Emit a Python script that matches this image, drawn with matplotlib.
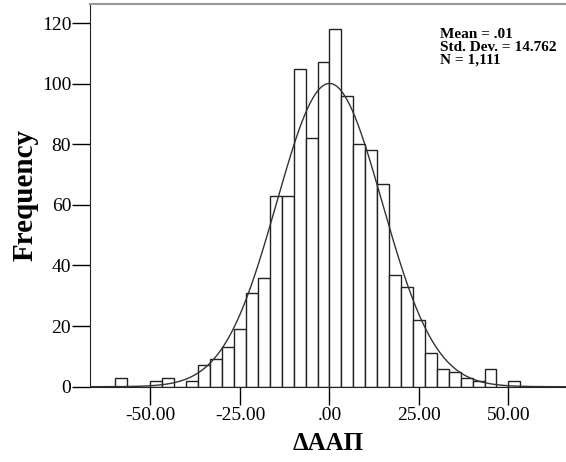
import numpy as np
import matplotlib
matplotlib.use("Agg")
import matplotlib.pyplot as plt
from matplotlib.ticker import FuncFormatter

# Histogram data (bin width 10/3, edges at multiples of 10/3)
bin_width = 10.0 / 3.0
first_edge = -60.0
counts = [3, 0, 0, 2, 3, 0, 2, 7, 9, 13, 19, 31, 36, 63, 63, 105, 82, 107,
          118, 96, 80, 78, 67, 37, 33, 22, 11, 6, 5, 3, 2, 6, 0, 2]
mean = 0.01
std = 14.762
n = 1111
x_ticks = [-50, -25, 0, 25, 50]
y_ticks = [0, 20, 40, 60, 80, 100, 120]
stats_text = "Mean = .01\nStd. Dev. = 14.762\nN = 1,111"
x_label = "ΔAAΠ"
y_label = "Frequency"

plt.rcParams['font.family'] = ['Liberation Serif', 'DejaVu Serif']

fig = plt.figure(figsize=(5.66, 4.62), dpi=100)
W, H = 566, 462
ax = fig.add_axes([90 / W, (H - 386.7) / H, (W - 90) / W, (386.7 - 4) / H])

edges = first_edge + bin_width * np.arange(len(counts) + 1)
ax.bar(edges[:-1], counts, width=bin_width, align='edge', color='white',
       edgecolor='#222222', linewidth=1.0, zorder=2)

xs = np.linspace(-67, 67, 600)
ys = n * bin_width / (std * np.sqrt(2 * np.pi)) * np.exp(-0.5 * ((xs - mean) / std) ** 2)
ax.plot(xs, ys, color='#333333', linewidth=1.0, zorder=3)

ax.set_xlim(-66.9, 66.1)
ax.set_ylim(0, 126.3)

ax.set_xticks(x_ticks)
ax.set_yticks(y_ticks)


def xfmt(v, pos):
    s = "%.2f" % v
    if s.startswith("0."):
        s = s[1:]
    elif s.startswith("-0."):
        s = "-" + s[2:]
    if s == "-.00":
        s = ".00"
    return s


ax.xaxis.set_major_formatter(FuncFormatter(xfmt))
ax.tick_params(axis='both', direction='out', length=13, width=1.0,
               labelsize=14, colors='black')
ax.tick_params(axis='y', pad=0.5)
ax.tick_params(axis='x', pad=1.5)

ax.spines['right'].set_visible(False)
ax.spines['top'].set_color('#999999')
ax.spines['top'].set_linewidth(1.5)
ax.spines['left'].set_color('#222222')
ax.spines['bottom'].set_color('#222222')

ax.set_ylabel(y_label, fontsize=21, fontweight='bold', labelpad=2.5)
ax.set_xlabel(x_label, fontsize=18, fontweight='bold', labelpad=6)

ax.text(440 / W, (H - 28) / H, stats_text, transform=fig.transFigure,
        fontsize=11, fontweight='bold', va='top', ha='left', linespacing=1.0)

fig.savefig("out.png", dpi=100)
